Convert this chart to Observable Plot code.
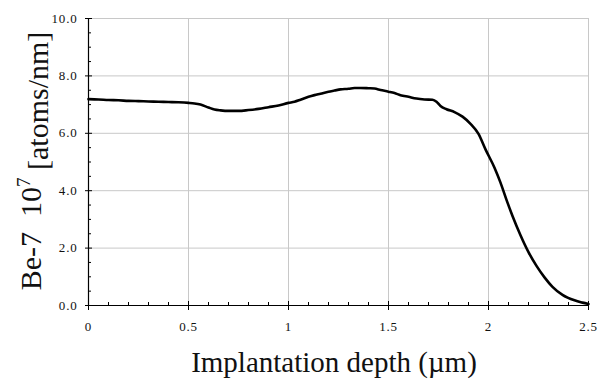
<!DOCTYPE html>
<html>
<head>
<meta charset="utf-8">
<script src="https://cdn.jsdelivr.net/npm/d3@7"></script>
<script src="https://cdn.jsdelivr.net/npm/@observablehq/plot@0.6"></script>
<style>
  html, body { margin: 0; padding: 0; background: #fff; }
</style>
</head>
<body>
<div id="chart"></div>
<script>
// Implantation depth (µm)
const depth = [0.00, 0.05, 0.10, 0.15, 0.20, 0.25, 0.30, 0.35, 0.40, 0.45, 0.50, 0.53, 0.56, 0.60, 0.63, 0.66, 0.70, 0.75, 0.80, 0.85, 0.90, 0.95, 1.00, 1.03, 1.06, 1.10, 1.13, 1.16, 1.20, 1.23, 1.26, 1.30, 1.33, 1.36, 1.40, 1.43, 1.46, 1.50, 1.53, 1.56, 1.60, 1.64, 1.68, 1.72, 1.74, 1.76, 1.79, 1.83, 1.87, 1.91, 1.95, 1.985, 2.03, 2.06, 2.09, 2.12, 2.16, 2.20, 2.24, 2.28, 2.32, 2.37, 2.43, 2.47, 2.50];
// Be-7 concentration, 10^7 atoms/nm
const value = [7.19, 7.18, 7.16, 7.15, 7.13, 7.12, 7.11, 7.10, 7.09, 7.08, 7.06, 7.04, 7.00, 6.90, 6.83, 6.80, 6.78, 6.78, 6.81, 6.85, 6.91, 6.97, 7.06, 7.10, 7.17, 7.27, 7.33, 7.38, 7.45, 7.49, 7.53, 7.55, 7.58, 7.58, 7.57, 7.56, 7.51, 7.45, 7.40, 7.33, 7.27, 7.21, 7.18, 7.17, 7.10, 6.95, 6.84, 6.74, 6.58, 6.33, 5.98, 5.44, 4.80, 4.28, 3.68, 3.12, 2.45, 1.86, 1.38, 0.98, 0.65, 0.37, 0.18, 0.10, 0.05];

const xTicks = [0, 0.5, 1, 1.5, 2, 2.5];
const xTickLabels = ["0", "0.5", "1", "1.5", "2", "2.5"];
const xMinor = [0.1, 0.2, 0.3, 0.4, 0.6, 0.7, 0.8, 0.9, 1.1, 1.2, 1.3, 1.4, 1.6, 1.7, 1.8, 1.9, 2.1, 2.2, 2.3, 2.4];
const yTicks = [0, 2, 4, 6, 8, 10];
const yTickLabels = ["0.0", "2.0", "4.0", "6.0", "8.0", "10.0"];
const yMinor = [0.5, 1, 1.5, 2.5, 3, 3.5, 4.5, 5, 5.5, 6.5, 7, 7.5, 8.5, 9, 9.5];
const xGrid = [0.5, 1, 1.5, 2, 2.5];
const yGrid = [2, 4, 6, 8, 10];

const rows = depth.map((d, i) => ({d, v: value[i]}));
const grid = "#c8c8c8";
const font = "'Liberation Serif', 'Times New Roman', Times, serif";

const chart = Plot.plot({
  width: 602,
  height: 385,
  marginLeft: 88,
  marginRight: 14,
  marginTop: 18,
  marginBottom: 80,
  x: {domain: [0, 2.5], label: null},
  y: {domain: [0, 10], label: null},
  marks: [
    Plot.gridX(xGrid, {stroke: grid, strokeOpacity: 1, strokeWidth: 1}),
    Plot.gridY(yGrid, {stroke: grid, strokeOpacity: 1, strokeWidth: 1}),
    Plot.ruleX([0], {stroke: "#000", strokeWidth: 1.2}),
    Plot.ruleY([0], {stroke: "#000", strokeWidth: 1.2}),
    // x axis ticks
    Plot.axisX(xTicks, {tickSize: 5, fill: "none", label: null, stroke: "#000"}),
    Plot.axisX(xTicks, {tickSize: -4, fill: "none", label: null, stroke: "#000"}),
    Plot.axisX(xMinor, {tickSize: -3, fill: "none", label: null, stroke: "#000"}),
    Plot.axisX(xTicks, {tickSize: 0, tickPadding: 16, label: null, tickFormat: d => xTickLabels[xTicks.indexOf(d)], fill: "#111", fontFamily: font, fontSize: 13}),
    // y axis ticks
    Plot.axisY(yTicks, {tickSize: 3, fill: "none", label: null, stroke: "#000"}),
    Plot.axisY(yTicks, {tickSize: -4, fill: "none", label: null, stroke: "#000"}),
    Plot.axisY(yMinor, {tickSize: -3, fill: "none", label: null, stroke: "#000"}),
    Plot.axisY(yTicks, {tickSize: 0, tickPadding: 11, label: null, tickFormat: d => yTickLabels[yTicks.indexOf(d)], fill: "#111", fontFamily: font, fontSize: 13}),
    Plot.line(rows, {x: "d", y: "v", stroke: "#000", strokeWidth: 2.6, curve: "monotone-x", strokeLinejoin: "round", strokeLinecap: "round"})
  ]
});

const svg = d3.select(chart);
svg.selectAll("text")
  .style("font-family", font)
  .style("font-size", "13px")
  .style("letter-spacing", "0.8px");

// y-axis title
const yt = svg.append("text")
  .attr("transform", "translate(41,161) rotate(-90)")
  .attr("text-anchor", "middle")
  .style("font-family", font)
  .style("font-size", "30px")
  .style("white-space", "pre")
  .attr("fill", "#111");
yt.append("tspan").text("Be-7  10");
yt.append("tspan").attr("dy", "-0.6em").style("font-size", "19px").text("7");
yt.append("tspan").attr("dy", "0.6em").text(" [atoms/nm]");
// x-axis title
svg.append("text")
  .attr("x", 334)
  .attr("y", 372)
  .attr("text-anchor", "middle")
  .style("font-family", font)
  .style("font-size", "29px")
  .attr("fill", "#111")
  .text("Implantation depth (µm)");

document.getElementById("chart").appendChild(chart);
</script>
</body>
</html>
